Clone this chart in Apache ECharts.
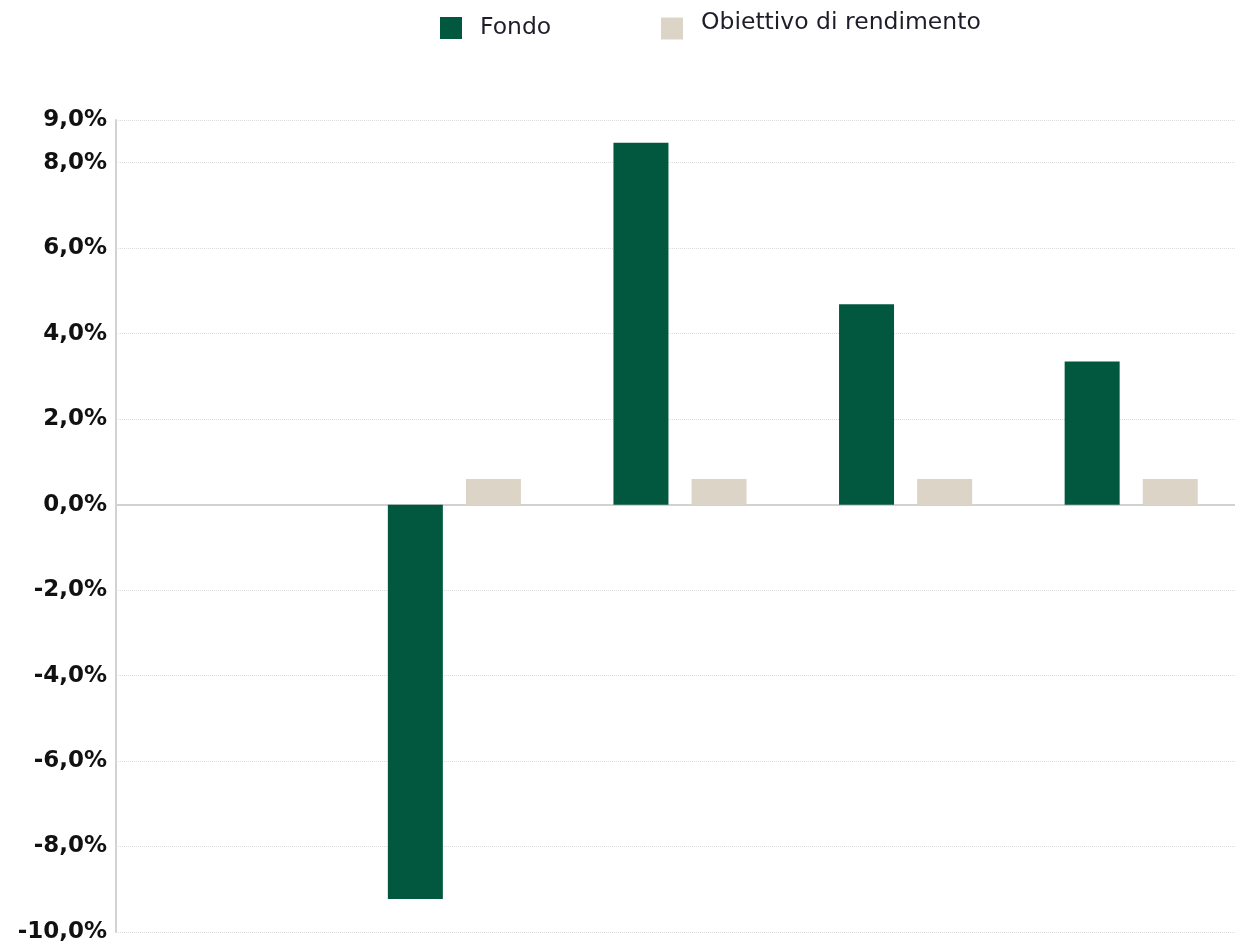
<!DOCTYPE html>
<html>
<head>
<meta charset="utf-8">
<script src="https://cdn.jsdelivr.net/npm/echarts@6/dist/echarts.min.js"></script>
<style>
html,body{margin:0;padding:0;background:#fff;overflow:hidden;}
#chart{width:1244px;height:947px;}
</style>
</head>
<body>
<div id="chart"></div>
<script>
const categories = ["1", "2", "3", "4", "5"];
const fondo = [null, -9.23, 8.47, 4.69, 3.35];
const obiettivo = [null, 0.6, 0.6, 0.6, 0.6];
const seriesNames = ["Fondo", "Obiettivo di rendimento"];

const chart = echarts.init(document.getElementById('chart'));
const legendCommon = {
  itemWidth: 22,
  itemHeight: 22,
  icon: 'rect',
  padding: 0
};
chart.setOption({
  animation: false,
  backgroundColor: '#fff',
  legend: [
    Object.assign({}, legendCommon, {
      left: 440, top: 16,
      data: [seriesNames[0]],
      textStyle: { fontFamily: 'DejaVu Sans', fontSize: 23.5, color: '#1e1e2a', padding: [0, 0, 0, 13] }
    }),
    Object.assign({}, legendCommon, {
      left: 661, top: 11,
      data: [seriesNames[1]],
      formatter: name => '{t|' + name + '}',
      textStyle: {
        fontFamily: 'DejaVu Sans', fontSize: 23.5, color: '#1e1e2a', padding: [0, 0, 0, 13],
        rich: { t: { fontFamily: 'DejaVu Sans', fontSize: 23.5, color: '#1e1e2a', padding: [0, 0, 11, 0] } }
      }
    })
  ],
  grid: { left: 116, top: 120, right: 0, bottom: 15, containLabel: false },
  xAxis: {
    type: 'category',
    data: categories,
    axisLine: { onZero: true, lineStyle: { color: '#d2d2d2', width: 2 } },
    axisTick: { show: false },
    axisLabel: { show: false },
    splitLine: { show: false }
  },
  yAxis: {
    type: 'value',
    min: -10,
    max: 9,
    interval: 2,
    axisLine: { show: true, lineStyle: { color: '#d2d2d2', width: 2 } },
    axisTick: { show: false },
    axisLabel: {
      margin: 9,
      fontFamily: 'DejaVu Sans',
      fontWeight: 'bold',
      fontSize: 23,
      color: '#111',
      formatter: v => v.toFixed(1).replace('.', ',') + '%'
    },
    splitLine: { show: true, lineStyle: { color: '#dcdcdc', type: 'dotted', width: 1 } }
  },
  series: [
    { name: seriesNames[0], type: 'bar', data: fondo, barWidth: 55, barGap: '42%',
      itemStyle: { color: '#02573f' } },
    { name: seriesNames[1], type: 'bar', data: obiettivo, barWidth: 55,
      itemStyle: { color: '#ddd4c8' } }
  ]
});
</script>
</body>
</html>
